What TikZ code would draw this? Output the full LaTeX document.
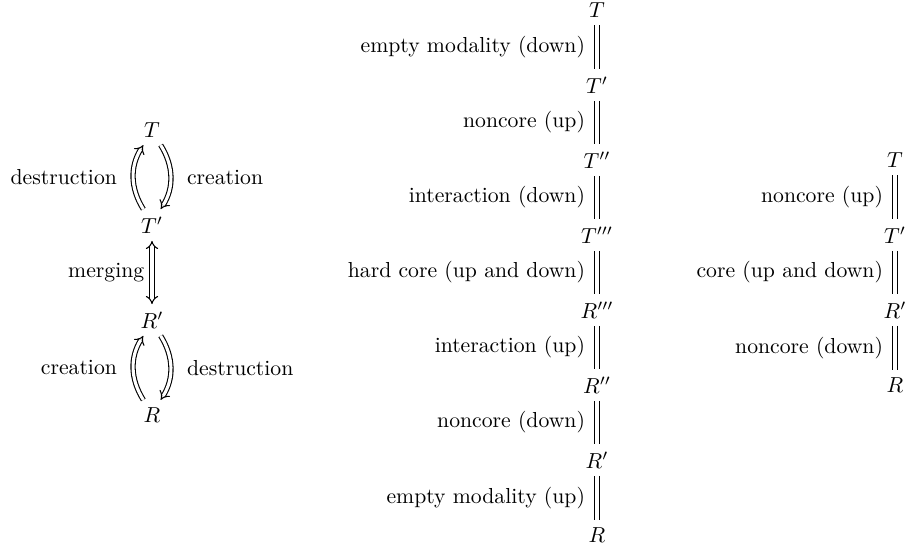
\documentclass[tikz,border=0pt]{standalone}
\usetikzlibrary{arrows.meta}
\begin{document}
\begin{tikzpicture}[x=0.4608pt, y=-0.4608pt,
  obj/.style={inner sep=3.33pt},
  eqline/.style={double equal sign distance, line width=0.45pt},
  dblarrow/.style={double equal sign distance, line width=0.5pt, -{Implies}},
  dblboth/.style={double equal sign distance, line width=0.5pt, {Implies}-{Implies}},
  lbl/.style={inner sep=3.33pt}]
\useasboundingbox (0,0) rectangle (910,550);

% left diagram
\node[obj] (lT)  at (152,130) {$T$};
\node[obj] (lTp) at (152,225) {$T'$};
\node[obj] (lRp) at (152,320) {$R'$};
\node[obj] (lR)  at (152,415) {$R$};
\draw[dblarrow] ([xshift=-4pt]lTp.north) to[bend left=32] node[lbl, left=4pt] {destruction} ([xshift=-4pt]lT.south);
\draw[dblarrow] ([xshift=4pt]lT.south) to[bend left=32] node[lbl, right=4pt] {creation} ([xshift=4pt]lTp.north);
\draw[dblboth] (lTp) -- node[lbl, left] {merging} (lRp);
\draw[dblarrow] ([xshift=-4pt]lR.north) to[bend left=32] node[lbl, left=4pt] {creation} ([xshift=-4pt]lRp.south);
\draw[dblarrow] ([xshift=4pt]lRp.south) to[bend left=32] node[lbl, right=4pt] {destruction} ([xshift=4pt]lR.north);

% middle diagram
\node[obj] (mT)   at (597,10)  {$T$};
\node[obj] (mTa)  at (597,85)  {$T'$};
\node[obj] (mTb)  at (597,160) {$T''$};
\node[obj] (mTc)  at (597,235) {$T'''$};
\node[obj] (mRc)  at (597,310) {$R'''$};
\node[obj] (mRb)  at (597,385) {$R''$};
\node[obj] (mRa)  at (597,460) {$R'$};
\node[obj] (mR)   at (597,535) {$R$};
\draw[eqline] (mT) -- node[lbl, left=2pt] {empty modality (down)} (mTa);
\draw[eqline] (mTa) -- node[lbl, left=2pt] {noncore (up)} (mTb);
\draw[eqline] (mTb) -- node[lbl, left=2pt] {interaction (down)} (mTc);
\draw[eqline] (mTc) -- node[lbl, left=2pt] {hard core (up and down)} (mRc);
\draw[eqline] (mRc) -- node[lbl, left=2pt] {interaction (up)} (mRb);
\draw[eqline] (mRb) -- node[lbl, left=2pt] {noncore (down)} (mRa);
\draw[eqline] (mRa) -- node[lbl, left=2pt] {empty modality (up)} (mR);

% right diagram
\node[obj] (rT)  at (895,160) {$T$};
\node[obj] (rTp) at (895,235) {$T'$};
\node[obj] (rRp) at (895,310) {$R'$};
\node[obj] (rR)  at (895,385) {$R$};
\draw[eqline] (rT) -- node[lbl, left=2pt] {noncore (up)} (rTp);
\draw[eqline] (rTp) -- node[lbl, left=2pt] {core (up and down)} (rRp);
\draw[eqline] (rRp) -- node[lbl, left=2pt] {noncore (down)} (rR);
\end{tikzpicture}
\end{document}
